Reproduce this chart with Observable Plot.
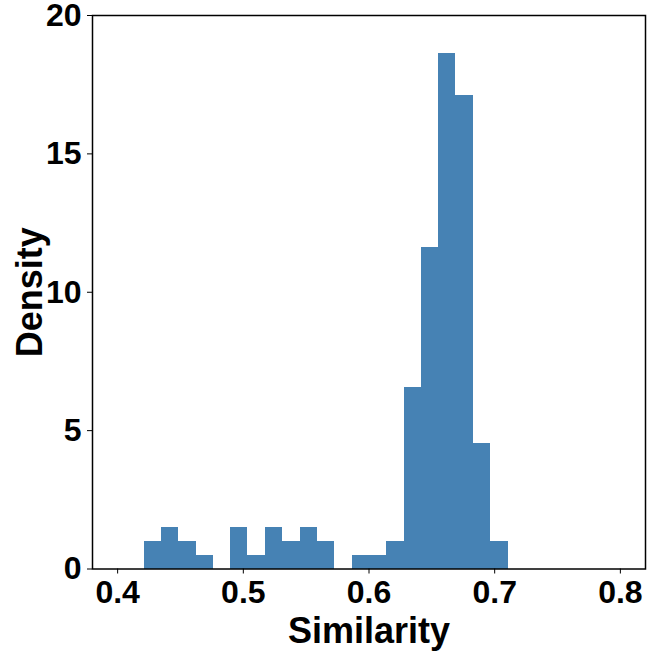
<!DOCTYPE html>
<html>
<head>
<meta charset="utf-8">
<script src="https://cdn.jsdelivr.net/npm/d3@7"></script>
<script src="https://cdn.jsdelivr.net/npm/@observablehq/plot@0.6"></script>
<style>
  html, body { margin: 0; padding: 0; background: #fff; }
  #chart svg { display: block; }
</style>
</head>
<body>
<div id="chart"></div>
<script>
// Histogram bin edges
const binLower = [0.4210, 0.4348, 0.4486, 0.4624, 0.4762, 0.4900, 0.5037, 0.5175, 0.5313, 0.5451, 0.5589,
                  0.5727, 0.5865, 0.6003, 0.6141, 0.6279, 0.6417, 0.6554, 0.6692, 0.6830, 0.6968];
const binUpper = [0.4348, 0.4486, 0.4624, 0.4762, 0.4900, 0.5037, 0.5175, 0.5313, 0.5451, 0.5589, 0.5727,
                  0.5865, 0.6003, 0.6141, 0.6279, 0.6417, 0.6554, 0.6692, 0.6830, 0.6968, 0.7106];
// Density per bin
const density = [1.0, 1.5, 1.0, 0.5, 0, 1.5, 0.5, 1.5, 1.0, 1.5, 1.0,
                 0, 0.5, 0.5, 1.0, 6.55, 11.6, 18.63, 17.12, 4.53, 1.0];
const xTicks = [0.4, 0.5, 0.6, 0.7, 0.8];
const yTicks = [0, 5, 10, 15, 20];
const xTitle = "Similarity";
const yTitle = "Density";

const bins = binLower.map((lo, i) => ({x1: lo, x2: binUpper[i], y: density[i]}));

const font = "'Liberation Sans', Arial, sans-serif";

const chart = Plot.plot({
  width: 650,
  height: 655,
  marginLeft: 92,
  marginRight: 5,
  marginTop: 15,
  marginBottom: 86.5,
  style: {fontFamily: font, fontWeight: "bold", color: "#000", background: "#fff"},
  x: {domain: [0.38, 0.82]},
  y: {domain: [0, 20]},
  marks: [
    Plot.rectY(bins, {x1: "x1", x2: "x2", y: "y", fill: "#4682B4", inset: 0, shapeRendering: "crispEdges"}),
    Plot.frame({stroke: "#000", strokeWidth: 1.5}),
    Plot.axisX({
      ticks: xTicks, tickFormat: d3.format(".1f"), tickSize: 5, tickPadding: 6,
      fontSize: 32, fontWeight: "bold", stroke: "#000", label: null
    }),
    Plot.axisY({
      ticks: yTicks, tickFormat: d3.format("d"), tickSize: 5, tickPadding: 6,
      fontSize: 32, fontWeight: "bold", stroke: "#000", label: null
    }),
    Plot.text([xTitle], {frameAnchor: "bottom", dy: 73.5, lineAnchor: "bottom", textAnchor: "middle",
      fontSize: 36, fontWeight: "bold", fill: "#000"}),
    Plot.text([yTitle], {frameAnchor: "left", dx: -51, rotate: -90, lineAnchor: "bottom", textAnchor: "middle",
      fontSize: 36, fontWeight: "bold", fill: "#000"})
  ]
});
document.getElementById("chart").appendChild(chart);
</script>
</body>
</html>
